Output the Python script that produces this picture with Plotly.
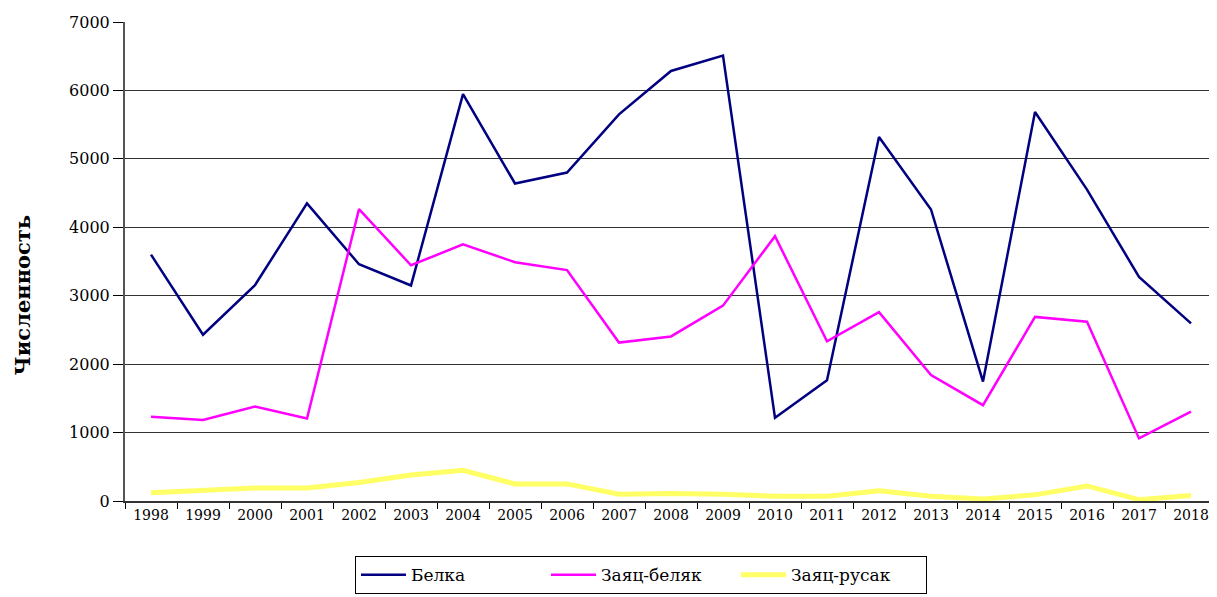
import plotly.graph_objects as go

years = [str(y) for y in range(1998, 2019)]

belka = [3600, 2430, 3155, 4350, 3460, 3150, 5945, 4640, 4800, 5650, 6285, 6510,
         1215, 1765, 5320, 4260, 1745, 5685, 4550, 3275, 2595]
zayats_belyak = [1230, 1185, 1380, 1205, 4265, 3445, 3750, 3490, 3375, 2315, 2405, 2855,
                 3870, 2335, 2760, 1840, 1400, 2690, 2620, 915, 1305]
zayats_rusak = [120, 160, 190, 190, 270, 380, 450, 250, 250, 100, 110, 100,
                70, 70, 150, 70, 30, 90, 220, 20, 80]

y_ticks = [0, 1000, 2000, 3000, 4000, 5000, 6000, 7000]

font_family = "DejaVu Serif"

fig = go.Figure()

fig.add_trace(go.Scatter(x=years, y=belka, mode="lines", name="Белка",
                         line=dict(color="#000080", width=2.5)))
fig.add_trace(go.Scatter(x=years, y=zayats_belyak, mode="lines", name="Заяц-беляк",
                         line=dict(color="#FF00FF", width=2.5)))
fig.add_trace(go.Scatter(x=years, y=zayats_rusak, mode="lines", name="Заяц-русак",
                         line=dict(color="#FFFF66", width=5)))

# page body has an 8px margin, so the figure is shifted by 8px
fig.update_layout(
    width=1209, height=589,
    margin=dict(l=117, r=0, t=14, b=96, autoexpand=False),
    plot_bgcolor="white",
    paper_bgcolor="white",
    font=dict(family=font_family, color="black"),
    showlegend=True,
    legend=dict(
        orientation="h",
        x=0.2106, xanchor="left",
        y=-0.115, yanchor="top",
        bordercolor="black", borderwidth=1,
        font=dict(size=17, family=font_family),
        itemwidth=45,
        entrywidth=130, entrywidthmode="pixels",
    ),
    annotations=[dict(
        text="<b>Численность</b>", textangle=-90,
        xref="paper", yref="paper", x=-0.094, y=0.43,
        xanchor="center", yanchor="middle", showarrow=False,
        font=dict(size=21, family=font_family),
    )],
)

fig.update_xaxes(
    type="category",
    range=[-0.5, 20.5],
    tickson="boundaries",
    ticks="outside", ticklen=6, tickcolor="black",
    showline=True, linecolor="#333333", linewidth=2,
    showgrid=False, automargin=False,
    tickfont=dict(size=14, family=font_family),
)

fig.update_yaxes(
    range=[0, 7000],
    tickvals=y_ticks,
    ticks="outside", ticklen=10, tickcolor="black",
    showline=True, linecolor="#555555", linewidth=2,
    showgrid=True, gridcolor="#333333", gridwidth=1,
    zeroline=False, automargin=False,
    tickfont=dict(size=16, family=font_family),
)

fig.write_html("out.html")
